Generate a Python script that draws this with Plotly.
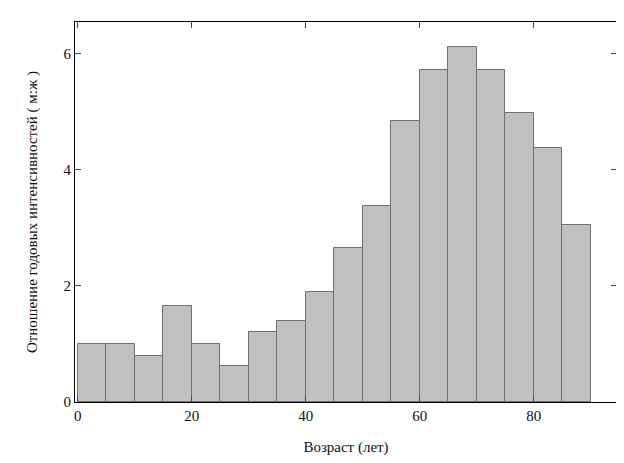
import plotly.graph_objects as go

bin_starts = [0,5,10,15,20,25,30,35,40,45,50,55,60,65,70,75,80,85]
ratios = [1.0,1.0,0.8,1.65,1.0,0.62,1.2,1.4,1.9,2.65,3.38,4.85,5.72,6.12,5.72,4.98,4.38,3.05]
x_ticks = [0,20,40,60,80]
y_ticks = [0,2,4,6]

fig = go.Figure(go.Bar(
    x=[b + 2.5 for b in bin_starts], y=ratios, width=5,
    marker=dict(color="#c0c0c0", line=dict(color="#707070", width=1)),
))
font = dict(family="Liberation Serif, Times New Roman, serif", size=15, color="#111")
fig.update_layout(
    width=624, height=463, plot_bgcolor="white", paper_bgcolor="white",
    margin=dict(l=67, r=15, t=14, b=69), showlegend=False, font=font, bargap=0,
)
fig.update_xaxes(range=[-0.5, 94.6], tickvals=x_ticks, ticks="inside", ticklen=6,
                 showline=True, linecolor="black", linewidth=1, mirror="ticks", showgrid=False,
                 zeroline=False, automargin=False,
                 title=dict(text="Возраст (лет)", font=font, standoff=18))
fig.update_yaxes(range=[0, 6.55], tickvals=y_ticks, ticks="inside", ticklen=6,
                 showline=True, linecolor="black", linewidth=1, mirror="ticks", showgrid=False,
                 zeroline=False, automargin=False,
                 title=dict(text="Отношение годовых интенсивностей ( м:ж )", font=font, standoff=22))
fig.write_html("out.html")
